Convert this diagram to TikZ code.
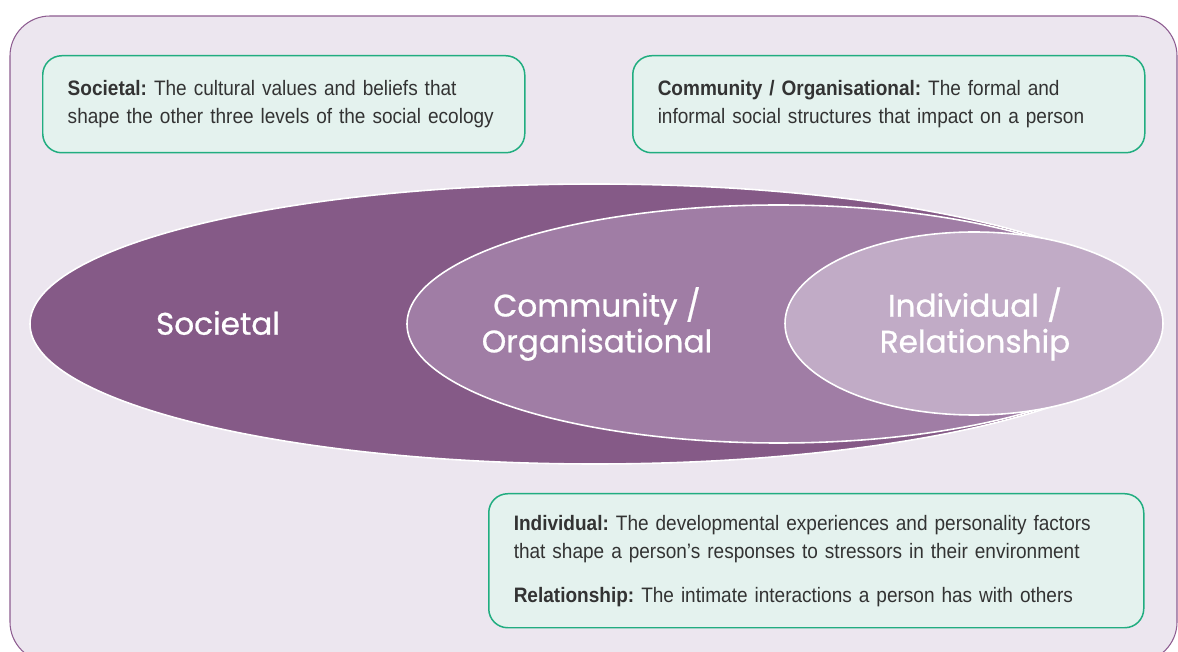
\documentclass[tikz,border=0pt]{standalone}
\usepackage{fontspec}
\setmainfont{Liberation Sans}[FakeStretch=0.91]
\newfontfamily\ringfont{Poppins}[FakeBold=0.8]
\definecolor{panelfill}{HTML}{ECE6EF}
\definecolor{panelline}{HTML}{8E5D91}
\definecolor{boxfill}{HTML}{E4F2EE}
\definecolor{boxgreen}{HTML}{21AD80}
\definecolor{textgray}{HTML}{333333}
\definecolor{societal}{HTML}{855A87}
\definecolor{community}{HTML}{A07DA5}
\definecolor{individual}{HTML}{C1ABC6}
\frenchspacing
\hyphenpenalty=10000
\begin{document}
\begin{tikzpicture}[
    infobox/.style={draw=boxgreen, fill=boxfill, line width=0.85pt, rounded corners=0.38cm, anchor=north west, inner xsep=0.5cm, inner ysep=0pt, align=left, text=textgray, font=\fontsize{11.9}{15.9}\selectfont},
    ring/.style={draw=white, line width=0.9pt},
    ringlabel/.style={text=white, align=center, font=\ringfont\fontsize{17.7}{20.4}\selectfont}]
    \useasboundingbox (0,0) rectangle (23.56,13.02);
    \draw[fill=panelfill, draw=panelline, line width=0.6pt, rounded corners=0.8cm] (0.2,12.7) rectangle (23.54,-0.22);

    \node[infobox, text width=8.64cm, minimum height=1.94cm] (socbox) at (0.84,11.92) {\textbf{Societal:} The cultural values and beliefs that\\shape the other three levels of the social ecology};
    \node[infobox, text width=9.24cm, minimum height=1.94cm] (combox) at (12.64,11.92) {\textbf{Community / Organisational:} The formal and\\informal social structures that impact on a person};
    \node[infobox, text width=12.1cm, minimum height=2.68cm] (indbox) at (9.76,3.16) {\textbf{Individual:} The developmental experiences and personality factors\\that shape a person’s responses to stressors in their environment\\[0.32cm]\textbf{Relationship:} The intimate interactions a person has with others};

    \fill[ring, fill=societal] (11.9,6.54) ellipse [x radius=11.3cm, y radius=2.8cm];
    \fill[ring, fill=community] (15.57,6.54) ellipse [x radius=7.43cm, y radius=2.38cm];
    \fill[ring, fill=individual] (19.48,6.55) ellipse [x radius=3.78cm, y radius=1.83cm];

    \node[ringlabel] (soclabel) at (4.36,6.56) {Societal};
    \node[ringlabel] (comlabel) at (11.94,6.54) {Community /\\Organisational};
    \node[ringlabel] (indlabel) at (19.5,6.54) {Individual /\\Relationship};
\end{tikzpicture}
\end{document}
